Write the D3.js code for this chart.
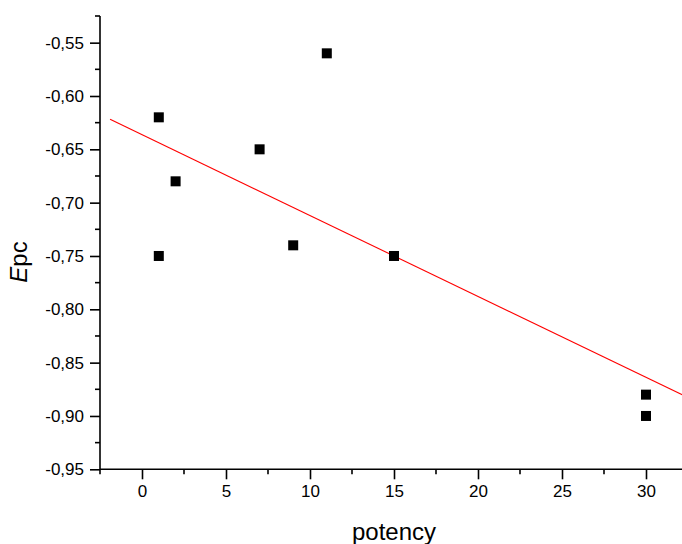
<!DOCTYPE html>
<html>
<head>
<meta charset="utf-8">
<script src="https://cdn.jsdelivr.net/npm/d3@7"></script>
<style>
  html, body { margin: 0; padding: 0; background: #fff; }
  svg { display: block; }
  text { font-family: "Liberation Sans", Arial, sans-serif; }
</style>
</head>
<body>
<svg id="chart" width="682" height="544"></svg>
<script>
// Data
const potency = [1, 11, 7, 2, 9, 1, 15, 30, 30];
const epc = [-0.62, -0.56, -0.65, -0.68, -0.74, -0.75, -0.75, -0.88, -0.90];
const xTicks = [0, 5, 10, 15, 20, 25, 30];
const yTicks = [-0.95, -0.90, -0.85, -0.80, -0.75, -0.70, -0.65, -0.60, -0.55];
const xLabel = "potency";
const yLabelItalic = "E";
const yLabelRest = "pc";
const fitRange = [-1.9, 33];

const svg = d3.select("#chart");
const W = 682, H = 544;
const x = d3.scaleLinear().domain([-2.5, 32.5]).range([100, 688]);
const y = d3.scaleLinear().domain([-0.95, -0.525]).range([469.3, 16]);

const loc = d3.formatLocale({decimal: ",", thousands: ".", grouping: [3], currency: ["", ""], minus: "-"});
const fmt = loc.format(".2f");

// linear fit (least squares)
const n = potency.length;
const mx = d3.mean(potency), my = d3.mean(epc);
let sxy = 0, sxx = 0;
for (let i = 0; i < n; i++) { sxy += (potency[i]-mx)*(epc[i]-my); sxx += (potency[i]-mx)**2; }
const slope = sxy / sxx, intercept = my - slope * mx;

svg.append("defs").append("clipPath").attr("id", "c")
  .append("rect").attr("x", 0).attr("y", 0).attr("width", W).attr("height", H);

// minor ticks
const xMinor = d3.range(-2.5, 33, 5);
const yMinor = d3.range(-0.925, -0.52, 0.05);

const gx = svg.append("g").attr("transform", `translate(0,${y(-0.95)})`);
gx.call(d3.axisBottom(x).tickValues(xTicks).tickSize(10).tickPadding(6).tickFormat(d3.format("d")));
gx.append("g").selectAll("line").data(xMinor).join("line")
  .attr("x1", d => x(d)).attr("x2", d => x(d)).attr("y1", 0).attr("y2", 5)
  .attr("stroke", "#000").attr("stroke-width", 1.6);

const gy = svg.append("g").attr("transform", `translate(${x(-2.5)},0)`);
gy.call(d3.axisLeft(y).tickValues(yTicks).tickSize(10).tickPadding(6).tickFormat(fmt));
gy.append("g").selectAll("line").data(yMinor).join("line")
  .attr("x1", 0).attr("x2", -5).attr("y1", d => y(d)).attr("y2", d => y(d))
  .attr("stroke", "#000").attr("stroke-width", 1.6);

[gx, gy].forEach(g => {
  g.select(".domain").attr("stroke", "#000").attr("stroke-width", 1.6);
  g.selectAll(".tick line").attr("stroke", "#000").attr("stroke-width", 1.6);
  g.selectAll(".tick text").attr("fill", "#000").attr("font-size", 17)
    .attr("font-family", "Liberation Sans, Arial, sans-serif");
});
gx.select(".domain").attr("d", `M${x(-2.5)},0H${x(32.5)}`);
gy.select(".domain").attr("d", `M0,${y(-0.525)}V${y(-0.95)}`);

// fit line
svg.append("line")
  .attr("x1", x(fitRange[0])).attr("y1", y(intercept + slope * fitRange[0]))
  .attr("x2", x(fitRange[1])).attr("y2", y(intercept + slope * fitRange[1]))
  .attr("stroke", "#ff0000").attr("stroke-width", 1.1)
  .attr("clip-path", "url(#c)");

// points
const s = 10;
svg.append("g").selectAll("rect").data(potency.map((p, i) => [p, epc[i]])).join("rect")
  .attr("x", d => x(d[0]) - s/2).attr("y", d => y(d[1]) - s/2)
  .attr("width", s).attr("height", s).attr("fill", "#000");

// axis titles
svg.append("text").attr("x", 394).attr("y", 540).attr("text-anchor", "middle")
  .attr("font-size", 24).attr("fill", "#000").text(xLabel);

const yt = svg.append("text").attr("transform", "translate(27,262) rotate(-90)")
  .attr("text-anchor", "middle").attr("font-size", 24).attr("fill", "#000");
yt.append("tspan").attr("font-style", "italic").text(yLabelItalic);
yt.append("tspan").text(yLabelRest);
</script>
</body>
</html>
